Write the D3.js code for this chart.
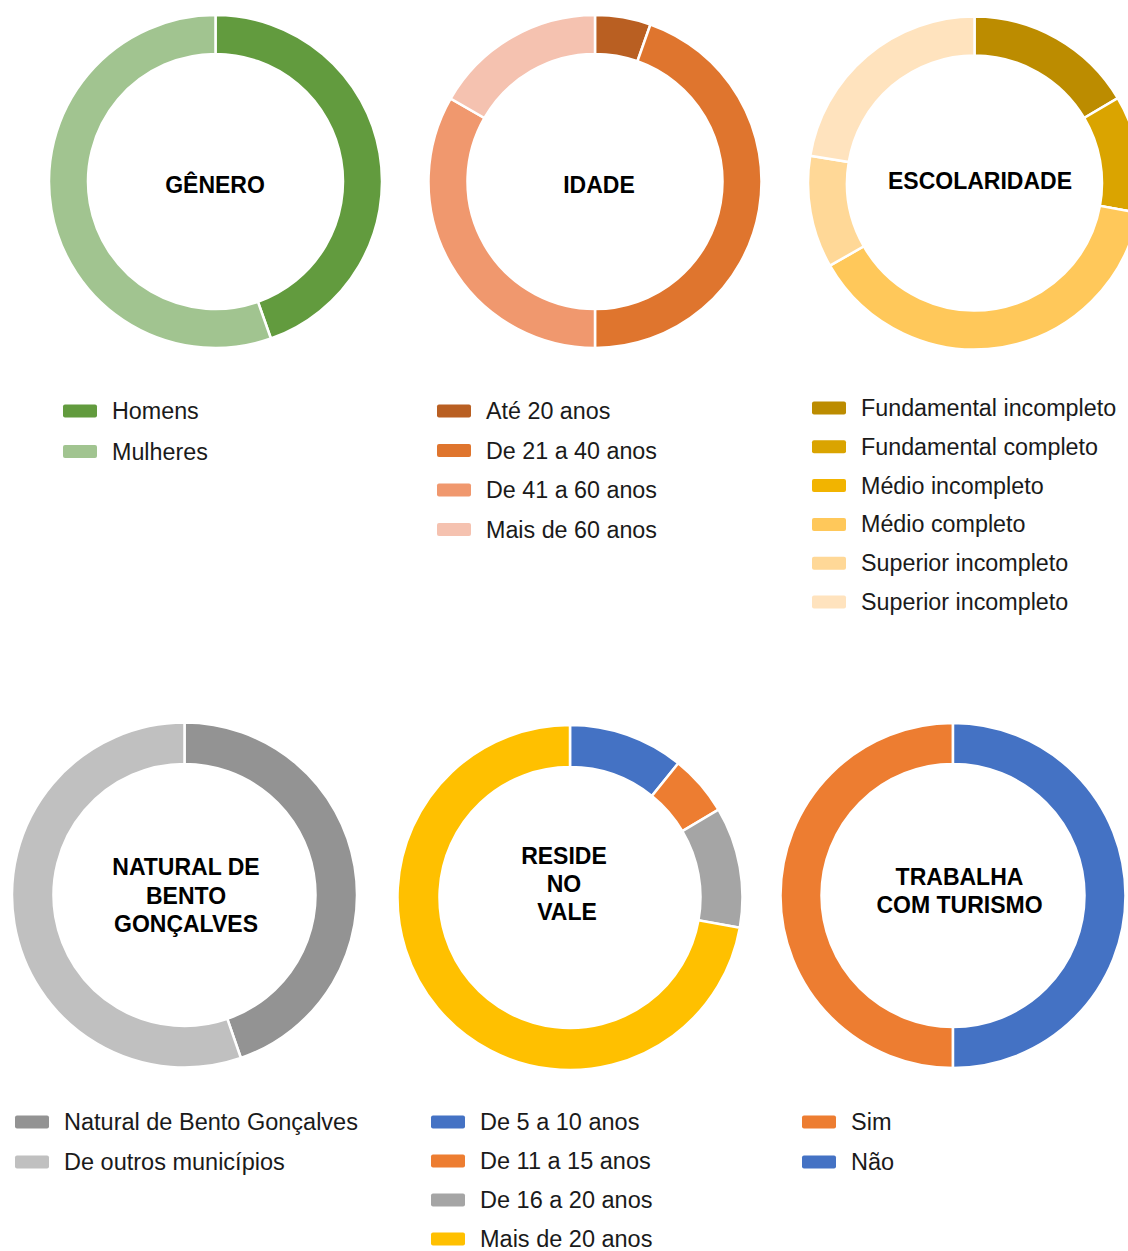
<!DOCTYPE html>
<html>
<head>
<meta charset="utf-8">
<script src="https://cdn.jsdelivr.net/npm/d3@7"></script>
<style>
  body { margin: 0; background: #fff; }
  svg { display: block; font-family: Arial, "Liberation Sans", sans-serif; }
</style>
</head>
<body>
<svg id="chart" width="1128" height="1251"></svg>
<script>
// values (percent)
const generoLabels = ["Homens", "Mulheres"];
const generoValues = [44.6, 55.4];
const generoColors = ["#629B3E", "#A1C490"];

const idadeLabels = ["Até 20 anos", "De 21 a 40 anos", "De 41 a 60 anos", "Mais de 60 anos"];
const idadeValues = [5.4, 44.6, 33.3, 16.7];
const idadeColors = ["#B95F22", "#DF752E", "#F0986E", "#F5C2B0"];

const escolaridadeLabels = ["Fundamental incompleto", "Fundamental completo", "Médio incompleto",
    "Médio completo", "Superior incompleto", "Superior incompleto"];
const escolaridadeValues = [16.5, 11.4, 0, 38.9, 10.9, 22.4];
const escolaridadeColors = ["#BC8C00", "#DAA400", "#F2B400", "#FFC85A", "#FFD897", "#FFE3BE"];

const naturalLabels = ["Natural de Bento Gonçalves", "De outros municípios"];
const naturalValues = [44.7, 55.3];
const naturalColors = ["#939393", "#C0C0C0"];

const resideLabels = ["De 5 a 10 anos", "De 11 a 15 anos", "De 16 a 20 anos", "Mais de 20 anos"];
const resideValues = [10.8, 5.7, 11.3, 72.2];
const resideColors = ["#4472C4", "#ED7D31", "#A5A5A5", "#FFC000"];

const trabalhaLabels = ["Sim", "Não"];
const trabalhaValues = [50, 50];
const trabalhaColors = ["#ED7D31", "#4472C4"];

const svg = d3.select("#chart");

const charts = [
    {title: ["GÊNERO"], labels: generoLabels, values: generoValues, colors: generoColors,
     cx: 215.5, cy: 181.5, r: 166.5, ir: 127.5, start: 0, titleY: 193, titleX: 215,
     legX: 63, legY: 411, legStep: 40.5, legFont: 23.3},
    {title: ["IDADE"], labels: idadeLabels, values: idadeValues, colors: idadeColors,
     cx: 595, cy: 181.5, r: 166.5, ir: 127.5, start: 0, titleY: 193, titleX: 599,
     legX: 437, legY: 411, legStep: 39.5, legFont: 23.3},
    {title: ["ESCOLARIDADE"], labels: escolaridadeLabels, values: escolaridadeValues, colors: escolaridadeColors,
     cx: 974.5, cy: 183, r: 166.5, ir: 127.5, start: 0, titleY: 189, titleX: 980,
     legX: 812, legY: 408, legStep: 38.8, legFont: 23.3},
    {title: ["NATURAL DE", "BENTO", "GONÇALVES"], labels: naturalLabels, values: naturalValues, colors: naturalColors,
     cx: 184.5, cy: 895, r: 172.5, ir: 131, start: 0, titleY: 875, titleX: 186, lineH: 28.5,
     legX: 15, legY: 1122, legStep: 40, legFont: 23.5},
    {title: ["RESIDE", "NO", "VALE"], labels: resideLabels, values: resideValues, colors: resideColors,
     cx: 570, cy: 897.5, r: 172.5, ir: 130.5, start: 0, titleY: 864, titleX: 564, lineH: 28,
     legX: 431, legY: 1122, legStep: 39, legFont: 23.5},
    {title: ["TRABALHA", "COM TURISMO"], labels: trabalhaLabels, values: trabalhaValues, colors: trabalhaColors,
     cx: 953, cy: 895.5, r: 172.5, ir: 131.5, start: Math.PI, titleY: 885, titleX: 959.5, lineH: 28,
     legX: 802, legY: 1122, legStep: 40, legFont: 23.5}
];

charts.forEach(c => {
    let pie = d3.pie()
        .sort(null)
        .startAngle(c.start)
        .endAngle(c.start + 2 * Math.PI);

    let arc = d3.arc()
        .innerRadius(c.ir)
        .outerRadius(c.r);

    let color = d3.scaleOrdinal()
        .domain(d3.range(c.labels.length))
        .range(c.colors);

    let g = svg.append("g")
        .attr("transform", `translate(${c.cx},${c.cy})`);

    g.selectAll("path")
        .data(pie(c.values))
        .join("path")
        .attr("d", arc)
        .attr("fill", (d, i) => color(i))
        .attr("stroke", "#fff")
        .attr("stroke-width", 2.5);

    // title in the hole
    c.title.forEach((t, i) => {
        svg.append("text")
            .attr("x", c.titleX + (t === "VALE" ? 3 : 0))
            .attr("y", c.titleY + i * (c.lineH || 0))
            .attr("text-anchor", "middle")
            .attr("font-weight", "bold")
            .attr("font-size", 23)
            .attr("fill", "#000")
            .text(t);
    });

    // legend
    let leg = svg.append("g");
    c.labels.forEach((lab, i) => {
        let y = c.legY + i * c.legStep;
        leg.append("rect")
            .attr("x", c.legX)
            .attr("y", y - 6.5)
            .attr("width", 34)
            .attr("height", 13)
            .attr("rx", 2)
            .attr("fill", color(i));
        leg.append("text")
            .attr("x", c.legX + 49)
            .attr("y", y + 8)
            .attr("font-size", c.legFont)
            .attr("fill", "#1a1a1a")
            .text(lab);
    });
});
</script>
</body>
</html>
